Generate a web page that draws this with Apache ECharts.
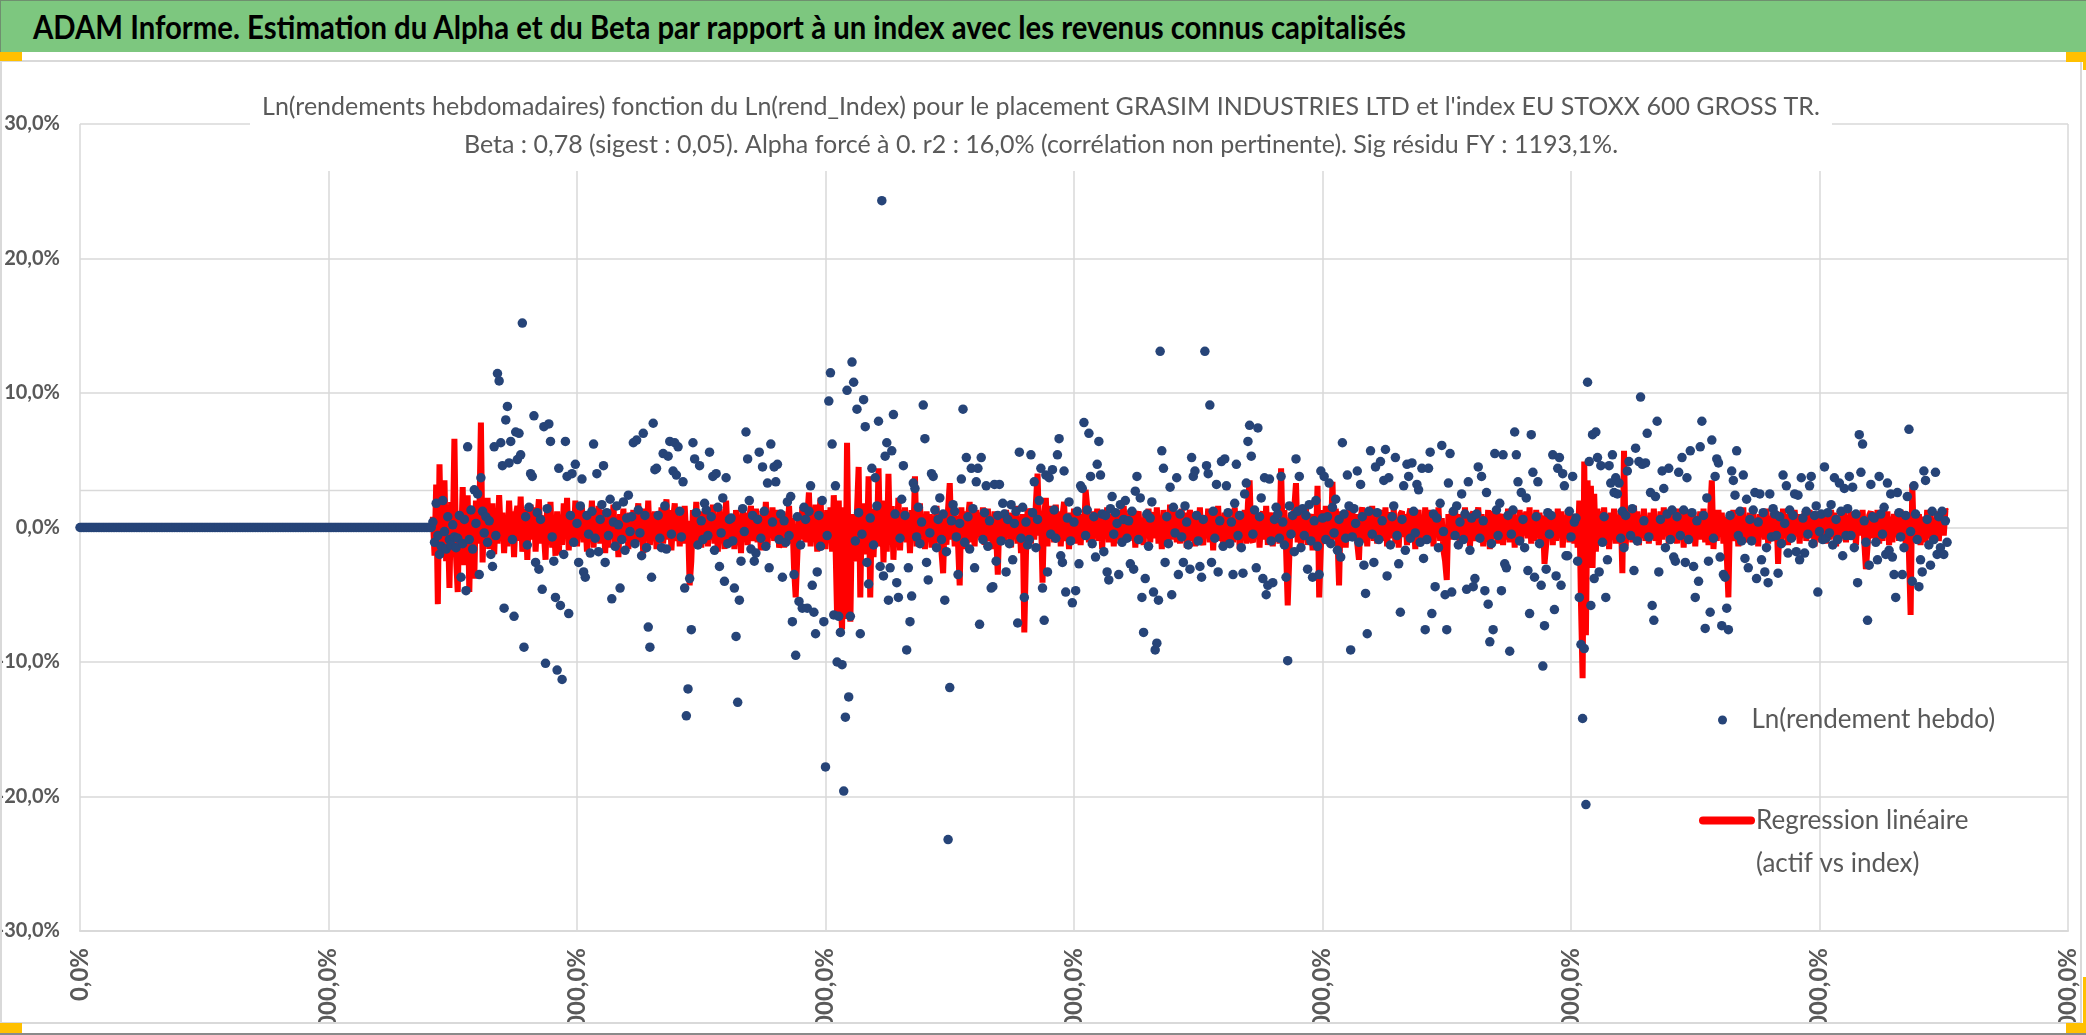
<!DOCTYPE html>
<html>
<head>
<meta charset="utf-8">
<script src="https://cdn.jsdelivr.net/npm/echarts@6/dist/echarts.min.js"></script>
<style>
html,body{margin:0;padding:0;background:#fff;}
body{width:2086px;height:1035px;position:relative;overflow:hidden;}
#bar{position:absolute;left:0;top:0;width:2086px;height:52px;background:#7DC77F;border-top:1px solid #6f8f6f;border-left:1px solid #6f8f6f;box-sizing:border-box;}
#bar span{position:absolute;left:32px;top:3px;line-height:46px;font-family:'Lato',sans-serif;font-weight:bold;font-size:32px;color:#000;white-space:nowrap;transform-origin:0 50%;}
#frame{position:absolute;left:0;top:60px;width:2078px;height:960px;border:2px solid #d9d9d9;}
#chart{width:2078px;height:960px;}
.or{position:absolute;background:#FFC000;}
#bottomline{position:absolute;left:0;top:1033px;width:2086px;height:2px;background:#8a8a8a;}
</style>
</head>
<body>
<div id="bar"><span id="bartxt">ADAM Informe. Estimation du Alpha et du Beta par rapport à un index avec les revenus connus capitalisés</span></div>
<div id="frame"><div id="chart"></div></div>
<div class="or" style="left:0;top:52px;width:22px;height:9px"></div>
<div class="or" style="left:2066px;top:52px;width:20px;height:10px"></div>
<div class="or" style="left:2083px;top:52px;width:3px;height:18px"></div>
<div class="or" style="left:0;top:1023px;width:22px;height:10px"></div>
<div class="or" style="left:2066px;top:1023px;width:20px;height:10px"></div>
<div class="or" style="left:2083px;top:977px;width:3px;height:56px"></div>
<div id="bottomline"></div>
<script>
// Semaines sans cotation (rendement nul) : 213 semaines
const zerosAvant = [
0,0,0,0,0,0,0,0,0,0, 0,0,0,0,0,0,0,0,0,0, 0,0,0,0,0,0,0,0,0,0,
0,0,0,0,0,0,0,0,0,0, 0,0,0,0,0,0,0,0,0,0, 0,0,0,0,0,0,0,0,0,0,
0,0,0,0,0,0,0,0,0,0, 0,0,0,0,0,0,0,0,0,0, 0,0,0,0,0,0,0,0,0,0,
0,0,0,0,0,0,0,0,0,0, 0,0,0,0,0,0,0,0,0,0, 0,0,0,0,0,0,0,0,0,0,
0,0,0,0,0,0,0,0,0,0, 0,0,0,0,0,0,0,0,0,0, 0,0,0,0,0,0,0,0,0,0,
0,0,0,0,0,0,0,0,0,0, 0,0,0,0,0,0,0,0,0,0, 0,0,0,0,0,0,0,0,0,0,
0,0,0,0,0,0,0,0,0,0, 0,0,0,0,0,0,0,0,0,0, 0,0,0,0,0,0,0,0,0,0,
0,0,0
];
// Ln(rendement hebdo), en %
const rendHebdo = [
0.4,-1.1,1.8,-0.6,-2.0,-1.4,2.0,-0.3,-1.6,0.8,-0.9,-1.3,0.2,-0.7,-1.5,
-0.8,0.9,-3.7,-1.2,0.6,-4.7,6.0,-0.9,1.3,-1.6,2.8,0.3,2.5,-3.5,3.7,
1.2,-0.4,0.8,-1.1,0.5,-2.0,-2.9,6.0,-0.6,11.45,10.9,6.3,4.6,-6.0,8.0,
9.0,4.8,6.4,-0.9,-6.6,7.1,5.05,7.0,5.4,15.2,-8.9,0.8,-1.3,1.5,4.0,
3.8,8.3,-2.6,1.1,-3.1,0.6,-4.6,7.5,-10.1,1.4,7.7,6.4,-0.7,-2.5,-5.2,
-10.6,4.4,-5.8,-11.3,-2.0,6.4,3.8,-6.4,0.9,4.0,-1.1,4.7,0.3,-2.6,1.6,
3.6,-3.3,-3.7,0.9,-0.5,-1.9,1.2,6.2,-0.8,4.0,-1.8,0.6,1.7,4.6,-2.6,
1.1,-0.6,2.1,-5.3,0.4,-1.4,1.6,0.2,-4.5,-0.9,1.9,-1.7,0.7,2.4,-0.3,
0.8,6.3,-1.2,6.5,1.3,-0.4,-2.1,7.0,0.9,-1.5,-7.4,-8.9,-3.7,7.75,4.3,
4.4,0.9,-0.8,-1.5,5.5,1.6,-1.6,5.3,6.4,-0.5,4.2,6.3,3.9,6.0,1.2,
-0.7,3.4,-4.5,-14.0,-12.0,-3.8,-7.6,6.3,5.1,1.1,-1.3,4.6,0.5,-0.9,1.8,
1.3,-0.6,5.6,0.8,3.8,-1.7,4.0,1.5,-2.9,-0.4,2.2,-4.0,3.7,-1.2,0.6,
0.7,-1.0,-4.5,-8.1,-13.0,-5.4,-2.5,1.4,-0.3,7.1,5.1,2.0,-1.6,0.9,-2.5,
-1.9,0.6,5.6,-0.8,4.5,1.2,-1.4,3.3,-3.0,6.2,0.4,4.5,3.4,4.7,-0.9,
1.0,-3.7,0.5,-1.1,1.9,-0.6,2.3,-7.0,-3.5,-9.5,0.8,-5.5,-1.3,-6.0,1.5,
0.6,-6.0,1.2,3.1,-4.3,-6.3,-7.9,-3.3,0.9,-1.4,2.0,-7.0,-17.8,-0.6,9.4,
11.5,6.2,-6.5,3.1,-10.0,-6.6,-7.8,-10.2,-19.6,-14.1,10.2,-12.6,-6.6,12.3,10.8,
-1.0,8.8,1.1,-7.9,-0.5,9.5,7.5,-2.6,-4.2,0.7,4.4,-1.3,3.7,1.6,7.9,
-2.9,24.3,-3.6,5.3,6.3,-5.4,-3.0,5.7,8.4,1.0,-4.1,-5.2,-0.8,2.1,4.6,
0.9,-9.1,-3.0,-7.0,-5.1,3.3,2.9,-0.7,1.5,-1.2,0.4,9.1,6.6,-2.6,-3.9,
-0.4,4.0,3.8,1.3,-1.5,0.6,2.2,-0.9,1.0,-5.4,-1.8,-23.2,-11.9,0.5,1.7,
1.2,-0.7,-3.5,0.3,3.6,8.8,-1.1,5.2,0.8,-1.6,4.4,1.4,-3.0,3.4,4.4,
-7.2,5.2,-0.9,1.1,3.1,-1.4,0.5,-4.5,-4.4,3.2,-2.5,0.9,3.2,-1.0,1.8,
1.0,-3.3,0.6,-1.2,1.7,-2.4,0.3,1.2,-7.1,5.6,-0.8,1.5,-5.2,0.4,-1.3,
-0.9,5.4,1.1,3.4,-1.5,0.6,2.0,4.4,-4.5,-6.9,3.9,-3.3,3.7,-0.5,4.3,
1.3,-0.8,5.4,6.6,-2.1,-2.6,4.2,-4.8,0.7,1.9,-1.0,-5.6,0.4,-4.7,1.2,
-2.7,3.1,2.9,7.8,-0.6,1.3,7.0,3.8,-1.2,0.8,-2.2,4.7,6.4,3.9,1.0,
-1.8,0.9,-3.3,-3.9,1.4,2.3,-0.5,1.1,0.3,-3.5,1.7,-1.1,0.6,2.0,-0.8,
0.5,-2.7,1.2,-3.1,2.7,3.8,-0.9,2.2,-5.2,-7.8,-3.8,1.0,-1.4,0.7,1.9,
-4.8,-9.1,-8.6,-5.4,13.1,5.7,4.4,-2.6,0.8,-1.2,3.0,-5.0,1.5,-0.4,3.7,
-3.5,1.0,-0.7,-2.6,1.6,0.4,-1.3,-3.1,5.2,3.8,4.2,0.9,-1.0,-2.9,-3.7,
0.6,13.1,4.6,4.0,9.1,-2.6,1.2,-0.8,3.2,-3.3,0.5,4.9,-1.4,5.1,3.1,
1.1,-1.2,0.4,-3.5,1.8,4.7,-0.6,0.9,-1.5,-3.4,2.5,3.3,6.4,7.6,5.3,
-0.5,1.3,-3.0,7.4,0.8,2.2,-3.8,3.7,-5.0,-4.3,3.6,-1.0,-4.1,0.6,1.5,
1.0,-0.8,3.8,0.4,-1.3,-3.7,-9.9,1.6,-0.5,0.9,-1.8,5.1,1.2,3.8,-1.5,
1.4,-0.6,0.9,-3.1,1.7,-1.0,-3.7,0.5,2.0,-1.4,-3.5,4.2,0.7,3.8,-0.9,
0.8,3.3,-1.2,1.5,-0.4,2.1,-1.7,0.6,-2.2,6.3,1.0,-0.8,3.9,1.6,-9.1,
-0.7,1.4,0.3,4.2,-1.1,3.2,0.8,-2.8,-4.9,-7.9,1.2,5.7,-0.5,-2.6,4.5,
1.1,-0.9,4.9,0.5,3.5,5.8,-3.6,3.7,-1.3,0.8,1.6,5.2,-0.6,-2.7,-6.3,
0.6,3.1,-1.7,4.7,3.8,-0.8,4.8,1.2,-0.4,3.2,2.8,-1.1,4.4,-2.3,-7.6,
-0.9,4.4,5.6,-6.4,1.0,-4.4,0.7,-1.5,1.8,6.1,-0.3,-5.0,-7.6,3.3,5.5,
-4.8,1.2,-0.6,1.6,-1.3,0.4,2.5,-0.9,1.0,-4.6,3.4,-1.7,0.7,-4.4,-3.8,
1.0,4.5,-0.8,3.8,0.5,-4.7,2.6,-5.7,-8.5,-1.2,-7.6,5.5,1.3,-0.6,1.8,
-4.7,5.4,-2.7,-3.0,0.9,-9.2,-0.5,1.3,7.1,5.4,3.4,-1.0,2.6,0.6,-1.5,
2.2,-3.2,-6.4,6.9,4.1,-3.7,0.8,3.4,-1.2,-4.3,-10.3,-7.3,-3.1,1.1,-0.5,
0.9,5.4,-6.1,-3.6,4.4,5.2,-4.3,4.0,3.1,-2.1,-2.1,1.2,-0.7,3.8,0.4,
0.7,-2.5,-5.2,-8.7,-14.2,-9.0,-20.6,10.8,4.9,-5.8,6.9,-3.8,7.1,5.2,-3.3,
4.6,-1.1,0.8,-5.2,-2.4,4.6,3.3,5.4,2.6,3.7,2.5,3.3,-0.8,1.2,-1.5,
0.9,4.2,4.9,-0.6,1.4,-3.2,5.9,-1.0,4.9,9.7,4.7,0.5,4.8,7.0,-0.7,
2.6,-5.8,-6.9,2.3,7.9,-3.3,0.6,4.2,2.9,-1.5,1.0,4.4,-0.9,1.3,-2.2,
-2.5,0.8,4.1,-0.6,5.2,1.3,-2.6,3.7,-0.9,5.7,1.1,-2.9,-5.2,0.5,-4.0,
6.0,7.9,0.9,-7.5,2.2,-2.5,-6.3,6.5,-0.8,3.8,5.1,4.8,-2.2,-7.3,-3.5,
-3.7,-6.0,-7.6,0.9,4.2,3.5,2.4,5.7,-0.6,1.2,-1.0,3.9,-2.3,2.1,-3.0,
0.6,-1.0,1.3,2.6,-3.8,0.4,2.5,-2.4,1.1,-3.3,-1.5,-4.1,2.5,-0.7,1.4,
1.0,-0.6,-3.4,0.8,-1.2,3.9,0.3,3.1,-1.9,1.3,-0.8,0.9,2.5,-1.8,2.4,
-2.4,3.7,0.7,-1.9,1.2,-0.5,3.1,3.8,-1.2,0.9,1.6,-4.8,-0.3,1.0,-0.9,
4.5,-0.8,1.1,-0.4,1.7,-1.3,3.7,0.6,-0.9,3.3,1.2,-2.1,2.9,-0.6,1.4,
3.8,-0.6,3.0,-1.5,1.0,-4.1,6.9,4.1,6.2,0.5,-1.1,-6.9,-2.8,3.2,0.8,
0.7,-1.1,-2.4,3.8,1.0,-0.5,1.5,-2.0,3.3,-1.7,2.5,-2.2,-3.5,-5.2,2.6,
1.1,-0.7,-3.5,-1.5,0.9,2.3,7.3,-0.3,-4.0,3.1,1.0,-0.9,-4.4,-2.4,-3.3,
4.2,3.5,0.6,-1.3,-2.8,1.2,-0.9,4.1,-2.0,0.8,-1.5,1.2,-2.0,0.5,-1.1
];
// Regression linéaire (actif vs index), en %
const regression = [
0.8,-2.1,3.2,-5.7,4.7,-1.8,1.2,3.5,-2.5,0.6,-4.5,1.9,-1.0,6.6,-2.2,
-4.8,1.0,-1.5,3.0,-2.8,0.9,2.4,-4.8,1.5,-0.6,-3.8,2.0,-1.2,0.4,7.8,
-2.6,1.4,-0.8,2.2,-1.6,0.5,1.8,-2.0,0.9,-1.2,2.4,-0.5,1.1,-1.9,0.7,
-1.4,2.0,-0.6,1.2,-2.2,0.8,1.6,-1.0,2.3,-1.8,0.4,1.4,-2.4,0.9,1.7,
-0.9,1.5,-1.8,0.6,2.1,-1.2,0.9,-0.4,-2.4,1.6,-0.8,1.9,-1.5,0.7,-2.1,
1.2,-2.0,0.8,-1.3,1.8,-0.6,2.2,-1.7,0.5,1.1,-0.9,2.0,-1.4,0.6,-0.2,
1.5,-1.1,0.7,-1.8,1.2,-0.4,2.0,-1.5,0.9,-0.7,1.6,-1.2,0.4,1.3,-1.9,
0.6,-1.5,1.2,-0.8,1.7,-1.2,0.5,-2.2,1.0,-0.5,1.4,-1.0,0.8,-1.6,1.1,
-0.9,1.3,-1.4,0.7,1.8,-1.1,0.5,-1.9,1.4,-0.6,2.0,-1.3,0.9,-0.7,1.2,
-1.6,1.0,-0.7,1.5,-1.2,0.4,2.1,-0.9,1.3,-1.7,0.6,1.8,-1.0,0.8,-1.4,
0.9,-1.2,1.6,-0.8,0.5,-4.3,-2.5,1.3,-0.6,1.9,-1.1,0.7,-1.5,1.2,-0.4,
1.1,-1.4,0.6,-0.9,1.7,-1.2,0.8,-1.8,1.4,-0.5,1.0,-1.6,2.0,-0.7,0.9,
-1.2,0.9,-1.6,1.3,-0.7,0.5,-1.9,1.5,-0.6,1.1,-1.3,0.8,1.6,-1.0,0.4,
1.4,-1.1,0.6,-1.7,1.2,-0.4,1.9,-1.3,0.8,-0.6,1.5,-1.0,0.7,1.3,-1.5,
-0.8,1.2,-1.5,0.9,-0.5,1.6,-1.2,0.7,-3.0,-5.2,-2.1,1.0,-0.9,1.5,0.3,
-1.1,0.8,2.6,-1.4,1.0,-0.7,1.7,-1.8,0.5,2.2,-1.2,0.9,-1.6,1.3,-0.8,
1.5,-1.8,2.4,-1.0,-6.6,2.0,-5.0,-7.6,1.5,-6.8,6.3,-3.0,-7.0,1.0,-2.0,
-2.5,1.2,4.5,-5.2,1.8,-2.0,0.9,-1.5,3.8,-5.2,1.4,-2.2,1.0,-1.3,4.4,
-1.4,2.0,-2.6,1.1,-1.8,4.0,-1.2,1.6,-2.4,0.8,-1.0,2.2,-1.7,1.3,-0.6,
1.5,-1.1,0.7,-1.9,1.3,-0.8,3.8,-1.4,0.6,1.8,-1.0,0.9,-1.6,1.2,-0.5,
1.0,-1.5,0.8,-1.2,1.6,-0.6,1.1,-1.8,-3.4,0.7,-1.3,1.4,3.3,-0.9,1.2,
-1.4,0.9,-1.2,-4.3,1.5,-0.8,1.2,-1.6,0.7,1.9,-1.1,0.6,-1.4,1.3,-0.7,
1.1,-0.9,1.5,-1.3,0.6,1.4,-1.0,0.8,-1.6,1.2,-0.5,-3.5,1.0,-1.2,0.7,
-1.0,1.3,-0.7,1.1,-1.5,0.9,-0.4,1.6,-1.2,0.8,-1.9,1.0,-7.8,-2.0,1.4,
0.8,-1.2,1.4,-0.9,1.8,4.0,-0.6,1.2,-4.1,0.9,2.2,-1.4,1.6,-0.8,1.3,
-1.1,1.7,-0.6,1.2,-1.4,0.8,1.9,-1.0,0.5,-1.6,1.1,-0.7,1.4,-1.2,0.6,
1.0,-1.3,0.7,-0.9,2.8,1.5,-1.1,0.6,-1.5,1.2,-0.8,1.4,-1.0,0.9,-1.6,
1.2,-0.7,1.5,-1.1,0.6,1.0,-1.4,0.8,-0.5,1.3,-1.2,0.7,1.6,-0.9,0.5,
-1.0,1.3,-0.6,1.1,-1.5,0.8,1.2,-0.9,0.6,-1.3,1.0,-0.7,1.4,-1.1,0.8,
1.1,-0.8,1.5,-1.2,0.7,-1.6,1.3,-0.5,1.0,-1.4,1.7,-0.9,0.6,1.2,-1.1,
0.9,-1.2,1.4,-0.8,1.1,-1.5,0.6,1.3,-1.0,0.7,-1.4,1.2,-0.6,1.5,-0.9,
-1.3,0.8,-0.6,1.4,-1.1,0.9,-1.7,1.2,-0.5,1.6,-1.0,0.7,-1.3,1.1,-0.8,
1.0,-1.4,0.7,-1.1,1.5,-0.6,1.2,-1.6,0.9,-0.8,1.3,-1.2,1.8,3.5,-0.9,
-1.1,1.4,-0.8,1.0,-1.5,0.7,1.2,-0.9,1.6,-1.3,0.5,1.1,-1.4,0.8,-0.6,
0.9,-1.2,4.4,-1.0,1.3,-1.6,-5.8,-2.0,1.1,-0.7,1.5,3.3,-1.1,0.8,-1.4,
1.2,-0.8,1.4,-1.3,0.6,1.0,-1.7,0.8,-1.1,3.1,-5.2,-1.5,1.3,-0.9,1.6,
-0.7,1.1,-1.3,3.4,-0.9,1.4,-0.6,-4.3,1.2,-1.0,0.8,-1.5,1.3,-0.5,1.0,
1.3,-0.9,1.0,-1.2,-2.4,0.7,1.5,-1.1,0.9,-1.4,1.2,-0.8,1.6,-1.0,0.6,
-1.2,0.8,-0.5,1.3,-1.0,1.5,-1.4,0.7,1.1,-0.8,1.4,-1.2,0.6,-1.5,1.0,
1.2,-0.7,1.0,-1.3,0.8,1.4,-0.9,1.1,-1.6,0.6,1.3,-1.0,0.9,-1.2,1.5,
-0.8,1.3,-1.1,0.9,-1.4,1.2,-0.6,1.5,-1.0,0.7,-1.7,-2.5,-3.9,1.0,-0.7,
1.2,-0.9,1.4,-0.6,1.0,-1.3,0.8,-1.1,1.5,-0.7,1.1,-1.4,0.6,1.2,-1.0,
-1.1,1.5,-0.7,1.0,-1.4,0.8,-1.0,1.3,-1.6,0.6,1.2,-0.9,1.4,-1.2,0.7,
1.0,-1.3,0.8,-0.9,1.4,-1.1,0.6,1.2,-1.5,0.9,-0.7,1.3,-1.0,1.1,-0.6,
1.2,-0.8,1.5,-1.2,0.7,-1.0,1.3,-0.6,1.1,-1.4,0.9,-2.7,-1.3,1.0,-0.7,
1.1,-1.3,0.8,-1.0,1.4,-0.7,1.2,-1.5,0.9,-0.6,1.3,-1.1,0.7,1.0,-1.2,
0.8,-1.5,2.0,-5.5,-11.2,4.9,-8.0,3.5,-2.8,3.1,-3.0,2.5,-1.8,1.4,-1.0,
1.2,-0.9,1.5,-1.3,0.8,-1.6,1.1,-0.7,1.4,-1.2,0.9,-1.0,1.3,-3.4,5.7,
-1.4,1.0,-0.8,1.3,-1.1,1.6,-0.6,1.2,-1.3,0.9,-0.7,1.4,-1.0,0.8,-1.2,
1.1,-0.7,1.4,-1.0,0.8,-1.3,1.2,-0.9,1.5,-0.6,1.0,-1.2,0.7,1.3,-1.1,
0.9,-1.2,1.4,-0.8,1.0,-1.5,0.7,1.2,-1.0,1.3,-0.6,1.1,-1.4,0.8,-0.9,
1.2,-0.9,1.4,-1.1,0.6,-1.3,1.0,3.5,-1.6,0.8,-1.0,1.3,-0.7,1.1,-1.2,
0.8,-2.0,-5.2,1.1,-0.7,1.3,-1.0,0.9,-1.4,1.2,-0.8,1.5,-1.1,0.7,-0.9,
1.1,-0.8,1.3,-1.1,0.7,-1.4,1.0,-0.6,1.2,-0.9,1.4,-1.2,0.8,-1.0,1.1,
-1.0,1.2,-2.7,0.9,-1.1,1.4,-0.7,1.0,-1.3,0.8,1.1,-0.9,1.3,-0.6,1.0,
-1.2,0.9,-0.7,1.2,-1.0,0.6,1.3,-0.8,1.1,-1.4,0.7,-0.9,1.2,-1.1,0.8,
1.0,-1.2,0.8,-0.9,1.3,-0.7,1.1,-1.4,0.6,-1.0,1.2,-0.8,1.4,-1.1,0.9,
-0.9,1.2,-0.7,1.0,-1.3,0.8,1.1,-0.6,1.3,-1.0,-3.1,-1.4,0.9,1.2,-0.8,
1.1,-0.9,1.3,-1.2,0.7,-1.0,1.4,-0.6,1.2,-1.3,0.8,-1.1,1.0,-0.7,1.2,
-1.0,1.3,-0.8,1.1,-1.2,0.9,-2.0,-6.5,3.2,-1.1,1.2,-0.7,1.0,-1.3,0.8,
0.9,-1.1,1.3,-0.8,1.0,-1.2,0.7,-0.9,1.2,-1.0,0.8,1.1,-0.6,1.3,1.2
];
// Graduations et repère horizontal
const xTicks = [0, 150, 300, 450, 600, 750, 900, 1050, 1200];
const yTicks = [-30, -20, -10, 0, 10, 20, 30];
const ligneRepere = 2.75;

// fit the banner text to the reference width
(function(){
  const s = document.getElementById('bartxt');
  const w = s.getBoundingClientRect().width;
  if (w > 0) s.style.transform = 'scaleX(' + (1373 / w) + ')';
})();

const premiereSemaine = zerosAvant.length;
const ptsRend = zerosAvant.map((v, i) => [i, v / 100])
  .concat(rendHebdo.map((v, i) => [premiereSemaine + i, v / 100]));
const ptsReg = regression.map((v, i) => [premiereSemaine + i, v / 100]);

const fmtPct = v => (Math.round(v * 1000) / 10).toFixed(1).replace('.', ',') + '%';
const SERIE_REND = 'Ln(rendement hebdo)';
const SERIE_REG = 'Regression linéaire\n(actif vs index)';
const titleStyle = {fontFamily: 'Lato', fontSize: 25, fontWeight: 'normal', color: '#595959', lineHeight: 38};

const chart = echarts.init(document.getElementById('chart'), null, {renderer: 'canvas'});
chart.setOption({
  animation: false,
  backgroundColor: '#fff',
  title: [
    {
      text: "Ln(rendements hebdomadaires) fonction du Ln(rend_Index) pour le placement GRASIM INDUSTRIES LTD et l'index EU STOXX 600 GROSS TR.",
      left: 'center', top: 26, padding: 0, textStyle: titleStyle
    },
    {
      text: "Beta : 0,78 (sigest : 0,05). Alpha forcé à 0. r2 : 16,0% (corrélation non pertinente). Sig résidu FY : 1193,1%.",
      left: 'center', top: 64, padding: 0, textStyle: titleStyle
    }
  ],
  graphic: [
    {type: 'rect', z: 5, silent: true, shape: {x: 248, y: 14, width: 1582, height: 95}, style: {fill: '#fff'}}
  ],
  legend: [
    {
      data: [{name: SERIE_REND, icon: 'circle'}],
      left: 1716, top: 642, orient: 'vertical', padding: 0,
      itemWidth: 48, itemHeight: 9,
      textStyle: {fontFamily: 'Lato', fontSize: 26, color: '#595959', lineHeight: 32}
    },
    {
      data: [{name: SERIE_REG}],
      formatter: n => '\n' + n,
      left: 1697, top: 694, orient: 'vertical', padding: 0,
      itemWidth: 48, itemHeight: 8,
      lineStyle: {width: 8, color: '#FF0000', cap: 'round'},
      textStyle: {fontFamily: 'Lato', fontSize: 26, color: '#595959', lineHeight: 43}
    }
  ],
  grid: {left: 78, right: 12, top: 62, bottom: 91, containLabel: false, outerBoundsMode: 'none'},
  xAxis: {
    type: 'value', min: xTicks[0], max: xTicks[xTicks.length - 1], interval: xTicks[1] - xTicks[0],
    axisLine: {show: true, onZero: false, lineStyle: {color: '#D9D9D9', width: 2}},
    axisTick: {show: false},
    splitLine: {show: true, lineStyle: {color: '#D9D9D9', width: 1.5}},
    axisLabel: {rotate: 90, margin: 17, fontFamily: 'Lato', fontWeight: 'bold', fontSize: 24, color: '#595959',
      showMinLabel: true, showMaxLabel: true, hideOverlap: false, formatter: v => fmtPct(v)}
  },
  yAxis: {
    type: 'value', min: yTicks[0] / 100, max: yTicks[yTicks.length - 1] / 100, interval: (yTicks[1] - yTicks[0]) / 100,
    axisLine: {show: false}, axisTick: {show: false},
    splitLine: {show: true, lineStyle: {color: '#D9D9D9', width: 1.5}},
    axisLabel: {margin: 20, fontFamily: 'Lato', fontWeight: 'bold', fontSize: 20, color: '#595959', formatter: v => fmtPct(v)}
  },
  series: [
    {
      name: 'repère', type: 'line', silent: true, symbol: 'none', z: 1,
      data: [[xTicks[0], ligneRepere / 100], [xTicks[xTicks.length - 1], ligneRepere / 100]],
      lineStyle: {color: '#D9D9D9', width: 1.5}
    },
    {
      name: SERIE_REG, type: 'line', symbol: 'none', z: 2, data: ptsReg,
      color: '#FF0000', lineStyle: {color: '#FF0000', width: 6}
    },
    {
      name: SERIE_REND, type: 'scatter', z: 3, data: ptsRend, symbolSize: 9.5,
      color: '#264478', itemStyle: {color: '#264478', opacity: 1}
    }
  ]
});
</script>
</body>
</html>
